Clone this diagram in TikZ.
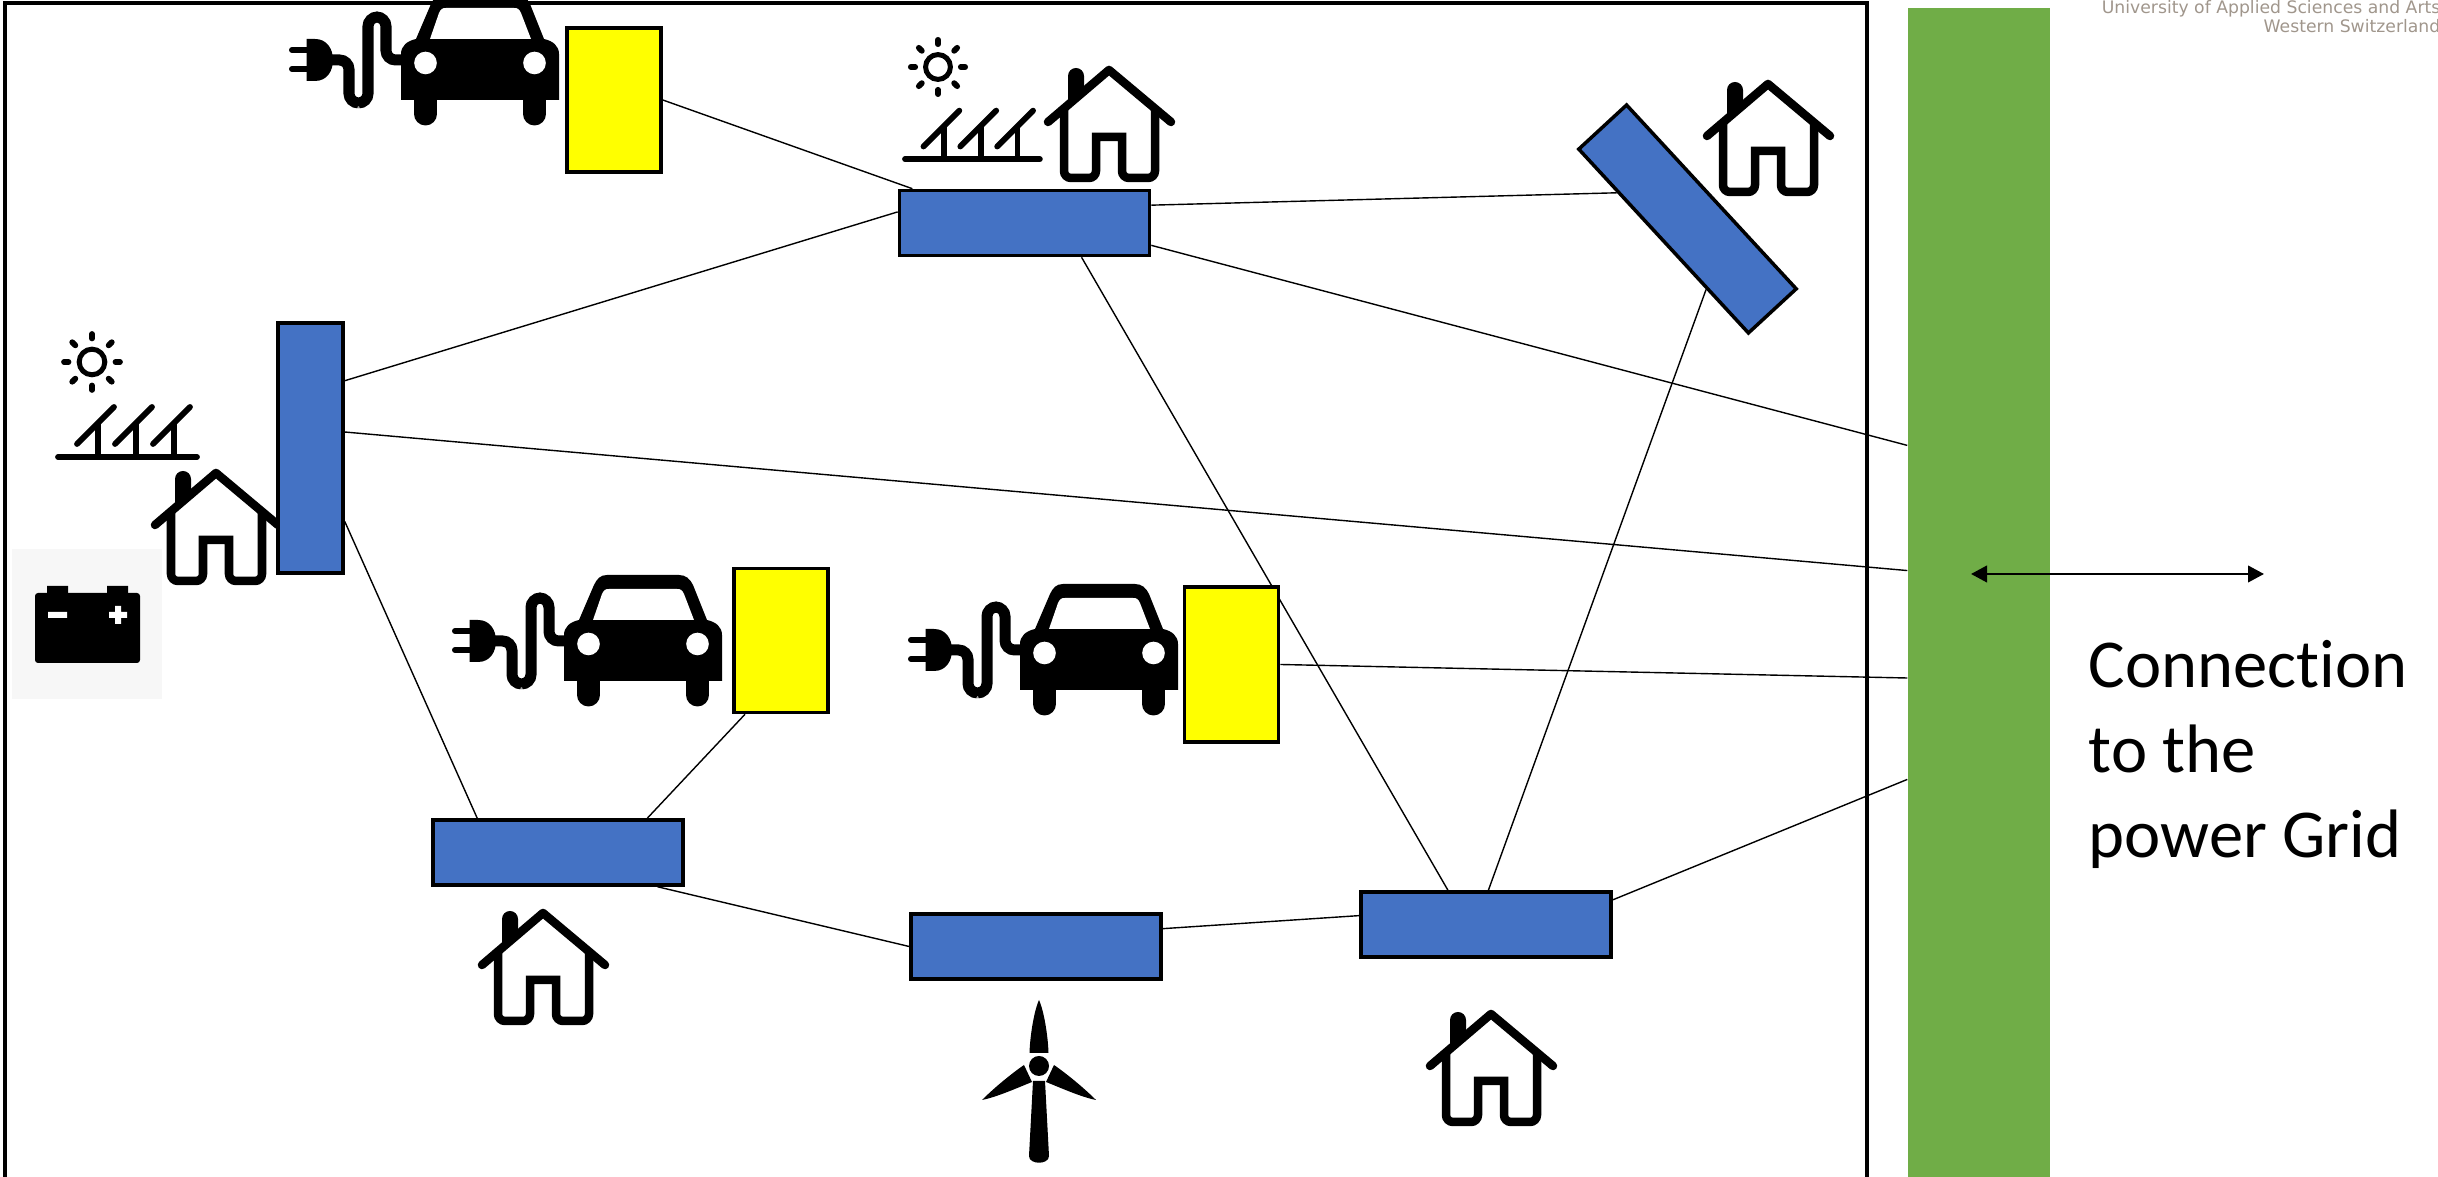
\documentclass[tikz,border=0pt]{standalone}
\usepackage{fontspec}
\setmainfont[Ligatures=NoCommon]{Carlito}
\newfontfamily\logofont{DejaVu Sans}
\usetikzlibrary{arrows.meta,backgrounds}
\definecolor{boxblue}{RGB}{68,114,196}
\definecolor{gridgreen}{RGB}{112,173,71}
\definecolor{logogrey}{RGB}{160,150,140}
\definecolor{chargeryellow}{RGB}{255,255,0}
\tikzset{
    bus/.style={draw=black, fill=boxblue, line width=.035cm, minimum width=2.5cm, minimum height=.65cm, inner sep=0pt},
    vbus/.style={bus, minimum width=.65cm, minimum height=2.5cm},
    charger/.style={draw=black, fill=chargeryellow, line width=.035cm, minimum width=.94cm, minimum height=1.44cm, inner sep=0pt},
    link/.style={draw=black, line width=.014cm},
    pics/house/.style={code={
        \draw[line width=.085cm, line cap=round, line join=round] (-61,52) -- (0,0) -- (62,52);
        \fill (-41,34) -- (-41,6) arc (180:360:8) -- (-25,20) -- cycle;
        \draw[line width=.085cm, line join=miter] (-45,38) [rounded corners=.07cm] -- (-45,108) -- (-13,108) [sharp corners] -- (-13,67) -- (13,67) [rounded corners=.07cm] -- (13,108) -- (46,108) [sharp corners] -- (46,38);
    }},
    pics/evcar/.style={code={
        \fill (-79,61) -- (-79,15) .. controls (-79,7) and (-73,2) .. (-64,0) -- (-49,-35) .. controls (-46,-41) and (-43,-45) .. (-36,-45) -- (36,-45) .. controls (43,-45) and (47,-41) .. (50,-35) -- (64,0) .. controls (73,2) and (79,7) .. (79,15) -- (79,61) -- cycle;
        \fill[white] (-50,0) -- (-41,-26) .. controls (-39,-30) and (-38,-31) .. (-34,-31) -- (34,-31) .. controls (38,-31) and (39,-30) .. (41,-26) -- (51,0) -- cycle;
        \draw[line width=.23cm, line cap=round] (-54.5,61) -- (-54.5,75) (54.5,61) -- (54.5,75);
        \fill[white] (-54.5,24) circle (.113cm) (54.5,24) circle (.113cm);
        \draw[line width=.11cm, rounded corners=.095cm] (-152,21) -- (-131,21) -- (-131,64) -- (-112,64) -- (-112,-22) -- (-94,-22) -- (-94,21) -- (-78,21);
        \fill (-173.5,0) -- (-165,0) .. controls (-153,0) and (-147,10) .. (-147,21) .. controls (-147,32) and (-153,42) .. (-165,42) -- (-173.5,42) -- cycle;
        \draw[line width=.06cm, line cap=round] (-188,11) -- (-173,11) (-188,30) -- (-173,30);
    }},
    pics/solar/.style={code={
        \draw[line width=.05cm] (0,0) circle (.128cm);
        \foreach \a in {0,45,...,315}
            \draw[line width=.057cm, line cap=round] (\a:23.5) -- (\a:28);
        \draw[line width=.058cm, line cap=round] (-34,95) -- (105,95);
        \foreach \x in {0,38,76} {
            \draw[line width=.058cm, line cap=round] (\x-15,82) -- (\x+22,45);
            \draw[line width=.058cm] (\x+6,60) -- (\x+6,95);
        }
    }}
}
\begin{document}
\begin{tikzpicture}[x=.01cm, y=-.01cm]
    \useasboundingbox (0,0) rectangle (2438,1177);

    % frame and green bar
    \draw[line width=.035cm] (5,3) rectangle (1867,1190);
    \node[fill=gridgreen, minimum width=1.42cm, minimum height=11.69cm, inner sep=0pt] (grid) at (1979,592.5) {};

    % icons
    \pic at (216,473) {house};
    \pic at (1109,70) {house};
    \pic at (1768,84) {house};
    \pic at (543,913) {house};
    \pic at (1491,1014) {house};

    \pic at (480,39) {evcar};
    \pic at (643,620) {evcar};
    \pic at (1099,629) {evcar};

    \pic at (92,362) {solar};
    \pic[scale=.97] at (938,67) {solar};

    % battery
    \fill[black!3] (12,549) rectangle (162,699);
    \fill[rounded corners=.03cm] (35,593) rectangle (140,663);
    \fill (47,586) rectangle (68,594) (107,586) rectangle (128,594);
    \fill[white] (48,612) rectangle (67,618) (109,612) rectangle (127,618) (115,606) rectangle (121,624);

    % wind turbine
    \begin{scope}[shift={(1039,1066)}]
        \fill (-6,15) -- (6,15) -- (10,90) .. controls (10,99) and (-10,99) .. (-10,90) -- cycle;
        \fill (0,-66) .. controls (5,-55) and (9,-30) .. (9.5,-13) -- (-9.5,-13) .. controls (-9,-30) and (-5,-55) .. (0,-66) -- cycle;
        \fill (-57,34) .. controls (-45,22) and (-28,8) .. (-15,-1) -- (-7,16) .. controls (-22,22) and (-42,31) .. (-57,34) -- cycle;
        \fill (57,34) .. controls (45,22) and (28,8) .. (15,-1) -- (7,16) .. controls (22,22) and (42,31) .. (57,34) -- cycle;
        \fill (0,0) circle (.1cm);
    \end{scope}

    % buses
    \node[bus] (topbus) at (1024.5,223) {};
    \node[vbus] (leftbus) at (310.5,448) {};
    \node[bus, rotate=-47.3] (tiltbus) at (1687.5,219) {};
    \node[bus] (lowbus) at (558,852.5) {};
    \node[bus] (windbus) at (1036,946.5) {};
    \node[bus] (eastbus) at (1486,924.5) {};

    % chargers
    \node[charger] (chargera) at (614,100) {};
    \node[charger] (chargerb) at (781,640.5) {};
    \node[charger, minimum height=1.55cm] (chargerc) at (1231.5,664.5) {};

    % links
    \begin{scope}[on background layer]
        \draw[link] (chargera.east) -- (topbus.163.9);
        \draw[link] (leftbus.63.1) -- (topbus.175.4);
        \draw[link] (topbus.8.6) -- (tiltbus.-153.8);
        \draw[link] (topbus.-10.8) -- (grid.116.6);
        \draw[link] (topbus.-31.2) -- (eastbus.138.6);
        \draw[link] (tiltbus.-28.7) -- (eastbus.86.6);
        \draw[link] (leftbus.25.5) -- (grid.163.9);
        \draw[link] (chargerc.east) -- (grid.-130.7);
        \draw[link] (eastbus.11.4) -- (grid.-111.9);
        \draw[link] (leftbus.-65.4) -- (lowbus.157.5);
        \draw[link] (chargerb.-116.4) -- (lowbus.21.3);
        \draw[link] (lowbus.-19.5) -- (windbus.west);
        \draw[link] (windbus.8.4) -- (eastbus.176.6);
    \end{scope}

    % connection arrow and labels
    \coordinate (arrowa) at (1971,574);
    \coordinate (arrowb) at (2264,574);
    \draw[line width=.025cm, {Triangle[length=.16cm,width=.165cm]}-{Triangle[length=.16cm,width=.165cm]}] (arrowa) -- (arrowb);
    \node[anchor=north west, align=left, inner sep=0pt, font=\fontsize{19.5}{24.1}\selectfont] (gridlabel) at (2088,640) {Connection\\to the\\power Grid};
    \node[anchor=north east, align=right, inner sep=0pt, text=logogrey, font=\logofont\fontsize{4.9}{5.4}\selectfont] (logo) at (2441,0) {University of Applied Sciences and Arts\\Western Switzerland};
\end{tikzpicture}
\end{document}
